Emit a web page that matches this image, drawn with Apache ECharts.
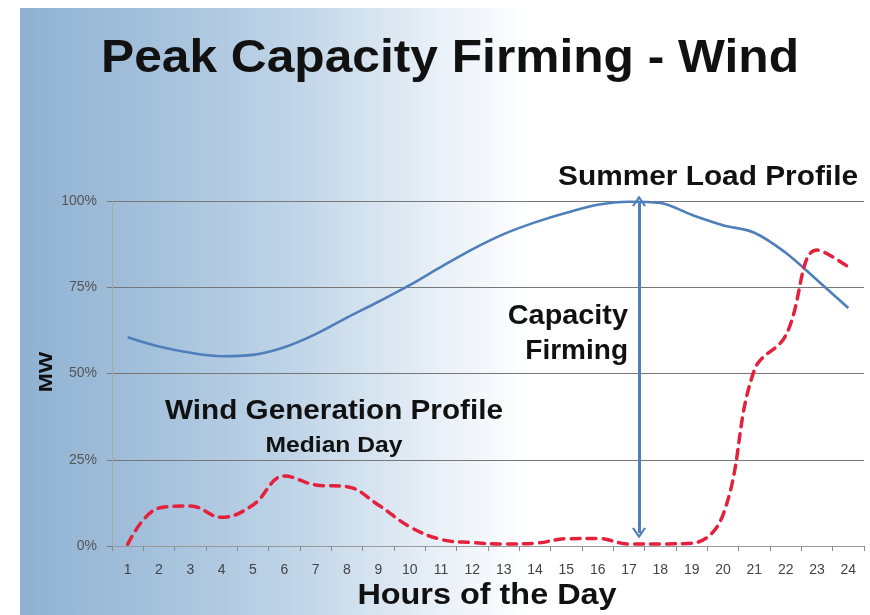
<!DOCTYPE html>
<html><head><meta charset="utf-8">
<script src="https://cdn.jsdelivr.net/npm/echarts@6/dist/echarts.min.js"></script>
<style>html,body{margin:0;padding:0;background:#fff}#c{width:870px;height:615px}</style>
</head><body><div id="c"></div>
<script>
// ---- data ----
const hours = ['1','2','3','4','5','6','7','8','9','10','11','12','13','14','15','16','17','18','19','20','21','22','23','24'];
const loadProfile = [60.5, 57.8, 56, 55, 55.4, 57.6, 61.4, 66.2, 70.8, 75.6, 80.9, 86.0, 90.4, 93.8, 96.6, 98.9, 99.8, 99.4, 96.0, 93.0, 90.8, 85.0, 77.1, 69];
const windProfile = [0.5, 11, 11.6, 8.3, 11.9, 20.3, 17.7, 17.2, 11.9, 5.6, 1.9, 1, 0.6, 0.8, 2.1, 2.2, 0.6, 0.6, 0.8, 9, 51, 61, 85.8, 80.9];
const yTicks = [0, 25, 50, 75, 100];
const arrowHour = 17.32;
const arrowTop = 100;
const arrowBottom = 3.8;

const FONT = '"Liberation Sans", Arial, sans-serif';
const chart = echarts.init(document.getElementById('c'));

function label(text, x, y, size, align, scaleX, extra) {
  return Object.assign({
    type: 'text', x: x, y: y, scaleX: scaleX, z: 20,
    style: {
      text: text, fill: '#111', font: 'bold ' + size + 'px ' + FONT,
      align: align, verticalAlign: 'middle', textAlign: align, textVerticalAlign: 'middle'
    }
  }, extra || {});
}

const chevron = 'path://M0,10 L5,0 L10,10 L8.6,10.8 L5,3.6 L1.4,10.8 Z';

chart.setOption({
  animation: false,
  graphic: [
    {
      type: 'rect', x: 20, y: 8, z: -100, silent: true,
      shape: { width: 850, height: 607 },
      style: {
        fill: {
          type: 'linear', x: 0, y: 0, x2: 1, y2: 0,
          colorStops: [
            { offset: 0, color: '#8fb2d2' },
            { offset: 0.15, color: '#a3c0db' },
            { offset: 0.32, color: '#bfd4e7' },
            { offset: 0.48, color: '#e6eef6' },
            { offset: 0.6, color: '#ffffff' },
            { offset: 1, color: '#ffffff' }
          ]
        }
      }
    },
    label('Peak Capacity Firming - Wind', 450, 59, 46, 'center', 1.08),
    label('Summer Load Profile', 858, 177, 28, 'right', 1.065),
    label('Capacity', 628, 316, 28, 'right', 1.03),
    label('Firming', 628, 351, 28, 'right', 1.0),
    label('Wind Generation Profile', 334, 411, 28, 'center', 1.06),
    label('Median Day', 334, 446, 22, 'center', 1.12),
    label('Hours of the Day', 487, 596, 30, 'center', 1.08),
    label('MW', 47, 372, 19, 'center', 1.2, { rotation: Math.PI / 2 })
  ],
  grid: { left: 112, right: 6, top: 201, bottom: 69, containLabel: false },
  xAxis: [
    {
      type: 'category', data: hours, boundaryGap: true,
      axisLine: { lineStyle: { color: '#9a9a9a', width: 1 } },
      axisTick: { show: true, interval: 0, length: 5, lineStyle: { color: '#8a8a8a' } },
      axisLabel: { interval: 0, margin: 17, color: '#444', fontSize: 14, fontFamily: FONT },
      splitLine: { show: false }
    },
    { type: 'value', min: 0.5, max: 24.5, show: false }
  ],
  yAxis: {
    type: 'value', min: yTicks[0], max: yTicks[yTicks.length - 1], interval: yTicks[1] - yTicks[0],
    axisLine: { show: true, lineStyle: { color: '#a8a8a8' } },
    axisTick: { show: true, length: 5, lineStyle: { color: '#777' } },
    axisLabel: { margin: 15, color: '#555', fontSize: 14, fontFamily: FONT, formatter: '{value}%' },
    splitLine: { show: true, lineStyle: { color: '#777', width: 1 } }
  },
  series: [
    {
      name: 'Summer Load Profile', type: 'line', data: loadProfile, smooth: 0.35,
      symbol: 'none', z: 5,
      lineStyle: { color: '#4e7fba', width: 2.6 }
    },
    {
      name: 'Wind Generation Profile', type: 'line', data: windProfile, smooth: 0.4,
      symbol: 'none', z: 6,
      lineStyle: { color: '#e3213d', width: 3.5, type: [9, 7], cap: 'round' }
    },
    {
      name: 'Capacity Firming', type: 'line', xAxisIndex: 1,
      data: [[arrowHour, arrowTop], [arrowHour, arrowBottom]],
      symbol: 'none', lineStyle: { opacity: 0 }, z: 7,
      markLine: {
        silent: true, symbol: [chevron, chevron], symbolSize: [14, 11],
        label: { show: false },
        lineStyle: { color: '#4e7fba', width: 3, type: 'solid' },
        data: [[{ coord: [arrowHour, arrowTop] }, { coord: [arrowHour, arrowBottom] }]]
      }
    }
  ]
});
</script></body></html>
